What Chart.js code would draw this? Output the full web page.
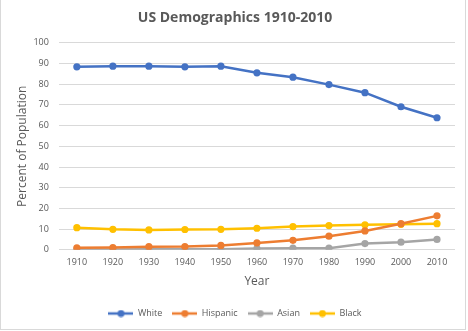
<!DOCTYPE html>
<html><head><meta charset="utf-8">
<script src="https://cdn.jsdelivr.net/npm/chart.js@4.4.0/dist/chart.umd.min.js"></script>
<style>
html,body{margin:0;padding:0;background:#fff}
#wrap{position:relative;width:468px;height:331px;overflow:hidden}
#frame{position:absolute;left:0;top:-2px;width:466px;height:332px;border:1px solid #d9d9d9;box-sizing:border-box;pointer-events:none}
canvas{position:absolute;left:0;top:0}
</style>
</head><body><div id="wrap"><canvas id="c" width="468" height="331"></canvas><div id="frame"></div></div>
<script>
const years = ['1910','1920','1930','1940','1950','1960','1970','1980','1990','2000','2010'];
const white    = [88.4, 88.7, 88.7, 88.4, 88.7, 85.5, 83.4, 79.8, 75.9, 69.1, 63.8];
const hispanic = [1.0, 1.1, 1.5, 1.6, 2.1, 3.3, 4.6, 6.6, 9.1, 12.6, 16.4];
const asian    = [0.2, 0.2, 0.3, 0.3, 0.3, 0.6, 0.8, 0.8, 3.0, 3.7, 5.0];
const black    = [10.7, 9.9, 9.6, 9.8, 9.9, 10.4, 11.2, 11.7, 12.1, 12.3, 12.6];
const yTicks   = [0,10,20,30,40,50,60,70,80,90,100];
const names    = ['White','Hispanic','Asian','Black'];
const colors   = ['#4472C4','#ED7D31','#A5A5A5','#FFC000'];
const series   = [white, hispanic, asian, black];

const FONT = '"Open Sans", "Liberation Sans", sans-serif';
const GREY = '#595959';

function marker(color){
  const c = document.createElement('canvas');
  c.width = 25; c.height = 8;
  const x = c.getContext('2d');
  x.strokeStyle = color; x.lineWidth = 2.5;
  x.beginPath(); x.moveTo(0,4); x.lineTo(25,4); x.stroke();
  x.fillStyle = color; x.beginPath(); x.arc(12.5,4,3.5,0,Math.PI*2); x.fill();
  return c;
}
const markers = colors.map(marker);

new Chart(document.getElementById('c'), {
  type: 'line',
  data: {
    labels: years,
    datasets: series.map((d,i) => ({
      label: names[i], data: d,
      borderColor: colors[i], backgroundColor: colors[i],
      borderWidth: 2.5, pointRadius: 3.6, pointHoverRadius: 3.6,
      pointBorderWidth: 0, tension: 0, fill: false
    }))
  },
  options: {
    responsive: false, animation: false,
    layout: { padding: { left: 15, right: 13, top: 4, bottom: 3 } },
    plugins: {
      title: { display: true, text: 'US Demographics 1910-2010', color: GREY,
        font: { family: FONT, size: 14, weight: 'bold' }, padding: { top: 6, bottom: 16 } },
      legend: { position: 'bottom',
        labels: { usePointStyle: true, pointStyleWidth: 25, boxHeight: 8, padding: 10,
          color: GREY, font: { family: FONT, size: 9 },
          generateLabels: (chart) => Chart.defaults.plugins.legend.labels.generateLabels(chart)
            .map(l => Object.assign(l, { pointStyle: markers[l.datasetIndex] })) } },
      tooltip: { enabled: false }
    },
    scales: {
      x: { offset: true,
        grid: { display: false, drawTicks: false },
        border: { display: false },
        ticks: { color: GREY, font: { family: FONT, size: 9 }, padding: 7, maxRotation: 0 },
        title: { display: true, text: 'Year', color: GREY, font: { family: FONT, size: 12 }, padding: { top: 0, bottom: 10 } }
      },
      y: { min: 0, max: 100,
        afterBuildTicks: (ax) => { ax.ticks = yTicks.map(v => ({ value: v })); },
        afterFit: (s) => { s.width -= 7; },
        grid: { color: '#d9d9d9', lineWidth: 1, drawTicks: false },
        border: { display: false },
        ticks: { color: GREY, font: { family: FONT, size: 9 }, padding: 10 },
        title: { display: true, text: 'Percent of Population', color: GREY, font: { family: FONT, size: 12 }, padding: { top: 0, bottom: 1 } }
      }
    }
  }
});
</script>
</body></html>
